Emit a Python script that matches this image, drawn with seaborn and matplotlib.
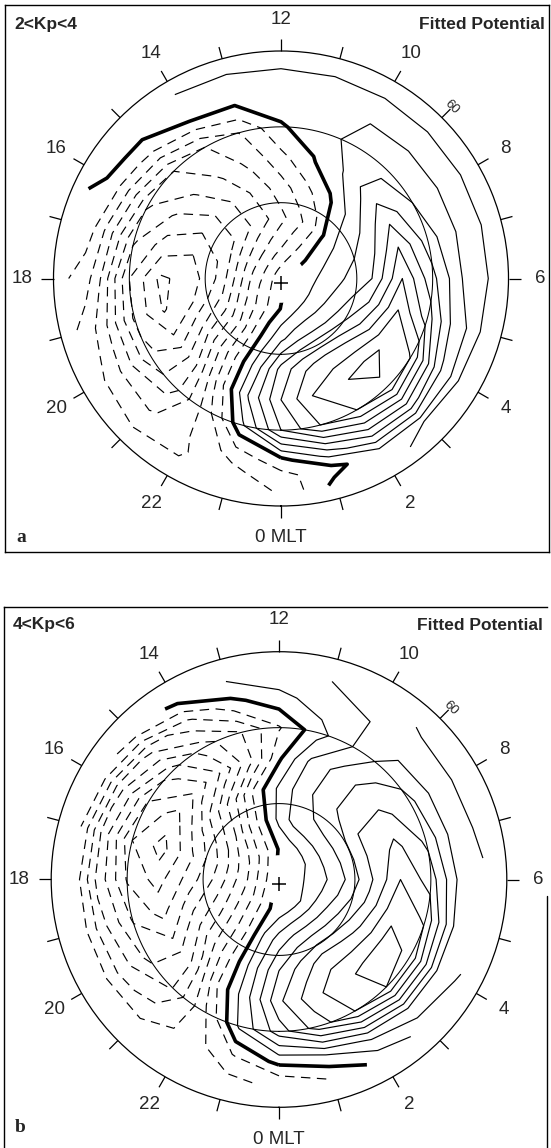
import numpy as np
import matplotlib
matplotlib.use("Agg")
import matplotlib.pyplot as plt
from matplotlib.path import Path
from matplotlib.transforms import ScaledTranslation
import seaborn as sns

sns.set_theme(style="white")
plt.rcParams['font.family'] = ['Liberation Sans', 'DejaVu Sans']

# ---------------- data ----------------
mlt_hours = list(range(24))                      # magnetic local time columns
hour_labels = {2: "2", 4: "4", 6: "6", 8: "8", 10: "10", 12: "12",
               14: "14", 16: "16", 18: "18", 20: "20", 22: "22", 0: "0 MLT"}
kp_labels = ["2<Kp<4", "4<Kp<6"]
panel_letters = ["a", "b"]
title_text = "Fitted Potential"
ring_label = "60"

# panel a : fitted potential (contour units) on colatitude rings (deg)
colat_a = [0, 4, 8, 12, 16, 20, 24, 26, 28]
pole_a = -0.3
phi_a_c04 = [0.05, 0.4, 0.7, 0.85, 0.9, 0.9, 0.8, 0.6, 0.25, -0.3, -0.9, -1.45, -2.0, -2.45, -2.85, -3.1, -3.2, -3.15, -3.0, -2.65, -2.25, -1.75, -1.15, -0.5]
phi_a_c08 = [1.8, 2.6, 2.9, 2.8, 2.6, 2.3, 1.9, 1.5, 1.0, 0.05, -1.4, -2.4, -3.3, -4.2, -5.0, -5.8, -6.4, -6.8, -6.7, -6.0, -4.8, -3.2, -1.2, 0.5]
phi_a_c12 = [4.4, 5.8, 6.3, 6.0, 5.0, 4.0, 3.0, 2.5, 2.0, 1.0, -0.3, -1.35, -2.45, -3.6, -4.8, -5.9, -7.0, -8.0, -8.6, -8.0, -6.2, -3.6, -1.0, 1.6]
phi_a_c16 = [5.0, 7.0, 7.9, 8.3, 7.8, 7.0, 6.0, 5.0, 3.7, 2.4, 0.95, -0.1, -1.3, -2.7, -3.8, -4.9, -6.2, -7.5, -9.2, -9.1, -7.8, -5.2, -1.4, 2.2]
phi_a_c20 = [4.0, 6.0, 7.0, 7.8, 6.9, 4.5, 3.3, 2.5, 2.0, 1.8, 1.4, 0.5, -0.1, -1.9, -3.0, -4.0, -4.8, -5.8, -7.0, -7.2, -6.8, -5.5, -2.6, 0.8]
phi_a_c24 = [-0.4, 1.3, 3.0, 3.3, 2.2, 1.3, 0.95, 0.95, 0.95, 0.95, 0.95, 0.7, 0.5, 0.2, 0.02, -0.8, -1.3, -2.1, -2.8, -3.8, -4.2, -4.2, -3.0, -1.6]
phi_a_c26 = [-1.3, -0.4, 0.9, 0.95, 0.9, 0.85, 0.8, 0.8, 0.8, 0.8, 0.75, 0.65, 0.5, 0.35, 0.2, 0.05, -0.05, -0.6, -1.4, -2.6, -3.3, -3.5, -3.1, -2.3]
phi_a_c28 = [-1.9, 0.3, 0.9, 1.1, 1.1, 1.1, 1.1, 1.1, 1.1, 1.1, 1.1, 1.1, 1.1, 1.05, 1.0, 0.5, 0.15, -0.3, -1.0, -2.0, -2.6, -2.9, -2.9, -2.5]

# panel b
colat_b = [0, 4, 8, 12, 16, 20, 24, 27]
pole_b = 0.3
phi_b_c04 = [0.45, 0.7, 0.9, 1.0, 1.1, 1.15, 1.15, 1.1, 1.0, 0.85, 0.6, 0.3, 0.1, -0.7, -1.5, -2.2, -2.7, -2.9, -2.9, -2.6, -2.1, -1.4, -0.66, 0.1]
phi_b_c08 = [2.5, 3.3, 3.6, 3.6, 3.4, 3.0, 2.6, 2.8, 2.9, 2.9, 2.8, 2.4, 1.3, -0.3, -2.1, -4.0, -5.2, -5.8, -5.6, -4.8, -3.7, -2.3, -0.8, 1.2]
phi_b_c12 = [4.0, 5.5, 6.5, 6.3, 5.8, 5.2, 4.8, 5.0, 5.0, 4.3, 3.5, 2.6, 1.2, -0.6, -3.35, -5.5, -7.3, -8.2, -7.65, -6.5, -5.0, -3.0, -0.7, 1.8]
phi_b_c16 = [4.8, 6.5, 7.7, 8.2, 8.2, 7.8, 7.0, 6.3, 5.3, 4.4, 3.4, 2.2, -0.2, -3.5, -6.15, -8.0, -9.5, -10.4, -9.4, -8.4, -6.9, -4.8, -0.9, 1.8]
phi_b_c20 = [3.5, 5.5, 7.0, 8.0, 7.9, 6.8, 5.5, 4.8, 4.3, 3.6, 2.1, 0.6, -1.1, -3.1, -4.5, -6.55, -8.1, -9.0, -8.1, -7.1, -6.3, -5.1, -2.3, 1.2]
phi_b_c24 = [0.3, 0.9, 2.2, 3.0, 3.0, 2.8, 2.6, 2.4, 2.4, 2.5, 2.0, 1.5, 0.7, -0.3, -2.2, -3.75, -4.75, -5.3, -5.2, -4.7, -4.35, -3.65, -2.65, -1.1]
phi_b_c27 = [-1.8, -0.9, 0.4, 1.3, 1.9, 2.5, 2.9, 3.15, 3.2, 3.1, 2.6, 2.0, 1.6, 1.0, 0.2, -0.6, -1.4, -2.0, -2.3, -2.4, -2.5, -2.6, -2.6, -2.2]

pos_levels_a = [1, 2, 3, 4, 5, 6, 7, 8]
neg_levels_a = [-9, -8, -7, -6, -5, -4, -3, -2, -1]
pos_levels_b = [1, 2, 3, 4, 5, 6, 7, 8]
neg_levels_b = [-10, -9, -8, -7, -6, -5, -4, -3, -2, -1]
ring_colats = [10, 20]          # 80 and 70 degree circles (outer frame = 60 deg)
rmax = 30
label_mlt_60 = 9.0
zero_gap_colat = 3.2            # the zero line is left open around the pole

# ---------------- layout ----------------
W, H = 551, 1148
fig = plt.figure(figsize=(W / 100, H / 100), dpi=100)
fig.patch.set_facecolor("white")


def rect(x0, y0, x1, y1):
    return [x0 / W, 1 - y1 / H, (x1 - x0) / W, (y1 - y0) / H]


def grid_from(colat, pole, rings):
    th = np.deg2rad(np.array(mlt_hours + [24]) * 15.0)
    rows = [[pole] * 25] + [list(r) + [r[0]] for r in rings]
    TH, RR = np.meshgrid(th, np.array(colat, dtype=float))
    return TH, RR, np.array(rows, dtype=float)


def annulus_axes(r_in):
    a = np.linspace(0, 2 * np.pi, 200, endpoint=False)
    outer = np.column_stack([0.5 + 0.6 * np.cos(a), 0.5 + 0.6 * np.sin(a)])
    inner = np.column_stack([0.5 + r_in * np.cos(-a), 0.5 + r_in * np.sin(-a)])
    verts = np.vstack([outer, outer[:1], inner, inner[:1]])
    codes = ([Path.MOVETO] + [Path.LINETO] * (len(outer) - 1) + [Path.CLOSEPOLY]
             + [Path.MOVETO] + [Path.LINETO] * (len(inner) - 1) + [Path.CLOSEPOLY])
    return Path(verts, codes)


def draw_panel(frame, center, rpx, colat, pole, rings, pos_lv, neg_lv,
               kp, letter, letter_y, text_y, sides=("left", "top", "right", "bottom")):
    fax = fig.add_axes(rect(*frame))
    fax.set_xticks([]); fax.set_yticks([])
    fax.set_facecolor("white")
    for s in ("left", "top", "right", "bottom"):
        fax.spines[s].set_visible(s in sides)
        fax.spines[s].set_color("black")
        fax.spines[s].set_linewidth(1.0)

    cx, cy = center
    pax = fig.add_axes(rect(cx - rpx, cy - rpx, cx + rpx, cy + rpx), projection="polar")
    pax.set_theta_zero_location("S")
    pax.set_theta_direction(1)
    pax.set_rlim(0, rmax)
    pax.grid(False)
    pax.set_xticks([]); pax.set_yticks([])
    pax.patch.set_alpha(0)
    pax.spines["polar"].set_linewidth(0.9)
    pax.spines["polar"].set_color("black")

    circ = np.linspace(0, 2 * np.pi, 361)
    for rc in ring_colats:
        sns.lineplot(x=circ, y=np.full_like(circ, rc), ax=pax, color="black",
                     linewidth=0.75, sort=False, estimator=None)

    TH, RR, Z = grid_from(colat, pole, rings)
    cs_p = pax.contour(TH, RR, Z, levels=pos_lv, colors="black", linewidths=0.85)
    cs_p.set_linestyle("solid")
    cs_n = pax.contour(TH, RR, Z, levels=neg_lv, colors="black", linewidths=0.85)
    cs_n.set_linestyle((0, (8, 5.5)))
    cs_0 = pax.contour(TH, RR, Z, levels=[0], colors="black", linewidths=2.6)
    cs_0.set_clip_path(annulus_axes(0.5 * zero_gap_colat / rmax), pax.transAxes)

    plus_shift = ScaledTranslation(0, -4 / 100, fig.dpi_scale_trans)
    pax.plot([0], [0], marker="+", ms=10, mew=1.1, color="black",
             transform=pax.transData + plus_shift, clip_on=False)

    for h in range(24):
        t = np.deg2rad(h * 15)
        pax.plot([t, t], [rmax, rmax + 1.6], color="black", lw=0.9,
                 clip_on=False, solid_capstyle="butt")
    for h, lab in hour_labels.items():
        t = np.deg2rad(h * 15)
        pax.text(t, 34.2, lab, ha="center", va="center", fontsize=13.5,
                 clip_on=False)
    t60 = np.deg2rad(label_mlt_60 * 15)
    pax.text(t60, 31.9, ring_label, ha="center", va="center", fontsize=9.5,
             rotation=-45, clip_on=False)

    fig.text((frame[0] + 9) / W, 1 - text_y / H, kp, ha="left", va="center",
             fontsize=12.5, fontweight="bold")
    fig.text((frame[2] - 4) / W, 1 - text_y / H, title_text, ha="right",
             va="center", fontsize=12.5, fontweight="bold")
    fig.text((frame[0] + 11) / W, 1 - letter_y / H, letter, ha="left",
             va="center", fontsize=14, fontweight="bold",
             family=["Liberation Serif", "DejaVu Serif"])
    return fax


draw_panel((5, 5, 549, 552), (281, 278.5), 227.5, colat_a, pole_a,
           [phi_a_c04, phi_a_c08, phi_a_c12, phi_a_c16, phi_a_c20,
            phi_a_c24, phi_a_c26, phi_a_c28],
           pos_levels_a, neg_levels_a, kp_labels[0], panel_letters[0],
           538, 24.6)

fax_b = draw_panel((4, 607, 547, 1160), (279, 879.5), 227.8, colat_b, pole_b,
                   [phi_b_c04, phi_b_c08, phi_b_c12, phi_b_c16, phi_b_c20,
                    phi_b_c24, phi_b_c27],
                   pos_levels_b, neg_levels_b, kp_labels[1], panel_letters[1],
                   1128, 625, sides=("left", "top"))
# the right border of panel b is only printed on its lower part
fax_b.axvline(1.0, ymin=0.0, ymax=(1160 - 896) / (1160 - 607), color="black",
              lw=1.0, clip_on=False)

fig.savefig("out.png", dpi=100, facecolor="white")
